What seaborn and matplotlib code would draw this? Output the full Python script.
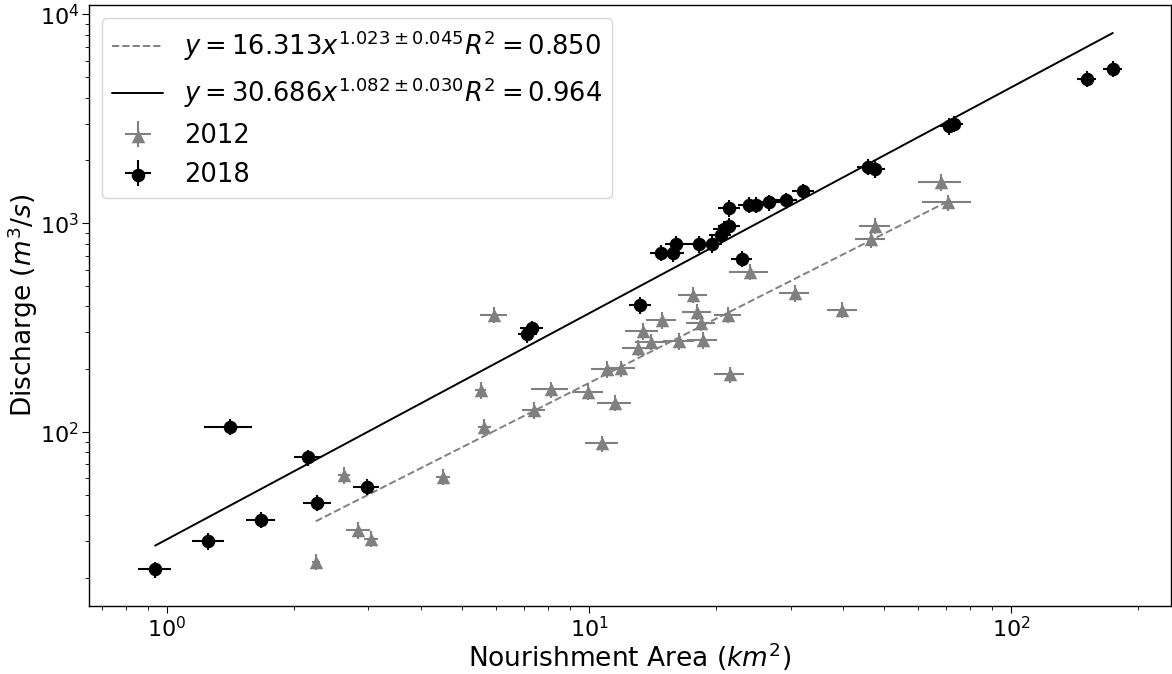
import numpy as np
import pandas as pd
import matplotlib
matplotlib.use("Agg")
import matplotlib.pyplot as plt
import seaborn as sns

# 2012 survey: nourishment area (km^2), its uncertainty, discharge (m^3/s)
area_2012 = [2.25, 2.63, 2.84, 3.04, 4.51, 5.54, 5.64, 5.96, 7.41, 8.11, 9.96,
             10.75, 11.05, 11.5, 11.89, 13.08, 13.38, 14.05, 14.87, 16.34,
             17.66, 17.99, 18.4, 18.6, 21.35, 21.55, 24.0, 30.7, 39.8, 46.5,
             47.6, 68.1, 70.9]
area_err_2012 = [0.05, 0.09, 0.185, 0.115, 0.17, 0.17, 0.2, 0.44, 0.46, 0.81,
                 0.83, 0.95, 0.94, 1.07, 0.97, 1.10, 1.21, 1.21, 1.22, 1.34,
                 1.40, 1.42, 1.47, 1.52, 1.58, 1.76, 2.54, 2.55, 3.26, 3.86,
                 3.9, 7.9, 9.3]
discharge_2012 = [23.9, 62.2, 33.9, 30.9, 61.1, 159, 106, 364, 127.5, 160, 156,
                  88.3, 200, 138, 202, 253.6, 305, 271, 344, 273, 454, 378,
                  334, 276, 364, 189, 587, 463, 385, 840, 973, 1571, 1259]

# 2018 survey
area_2018 = [0.937, 1.253, 1.408, 1.667, 2.16, 2.27, 2.97, 7.14, 7.31, 13.23,
             14.79, 15.82, 16.1, 18.2, 19.5, 20.5, 20.9, 21.5, 21.5, 23.0,
             23.9, 24.8, 26.7, 29.3, 32.1, 45.7, 47.6, 71.3, 73.3, 151, 174]
area_err_2018 = [0.083, 0.108, 0.185, 0.133, 0.166, 0.171, 0.216, 0.37, 0.45,
                 0.81, 0.89, 0.95, 0.97, 1.1, 1.17, 1.23, 1.25, 1.29, 1.29,
                 1.31, 1.43, 1.49, 1.6, 1.76, 1.93, 2.5, 2.6, 3.6, 3.7, 7.9, 8.7]
discharge_2018 = [22.0, 30.0, 106, 38.1, 75.6, 46.0, 54.7, 294, 314, 406, 724,
                  720, 795, 795, 795, 881, 937, 973, 1183, 676, 1227, 1227,
                  1259, 1286, 1421, 1862, 1820, 2913, 2999, 4920, 5495]

discharge_rel_err = 0.09

# power-law fits: coefficient, exponent, exponent error, R^2
fit_2012 = (16.313, 1.023, 0.045, 0.850)
fit_2018 = (30.686, 1.082, 0.030, 0.964)

grey = "#808080"

sns.set_style("ticks")
plt.rcParams["font.family"] = ["DejaVu Sans"]
plt.rcParams["mathtext.fontset"] = "dejavusans"
for key in ["text.color", "axes.labelcolor", "xtick.color", "ytick.color",
            "axes.edgecolor"]:
    plt.rcParams[key] = "black"

fig = plt.figure(figsize=(11.72, 6.74), dpi=100)
ax = fig.add_axes([0.0759, 0.1009, 0.9232, 0.8917])
ax.set_xscale("log")
ax.set_yscale("log")


def fit_frame(area, fit):
    a, b = fit[0], fit[1]
    xs = np.geomspace(min(area), max(area), 50)
    return pd.DataFrame({"area": xs, "discharge": a * xs ** b})


def fit_label(fit):
    return (r"$y = %.3fx^{%.3f \pm %.3f} R^2 = %.3f$" % fit)


sns.lineplot(data=fit_frame(area_2012, fit_2012), x="area", y="discharge",
             ax=ax, color=grey, linestyle="--", linewidth=1.4,
             label=fit_label(fit_2012), zorder=1)
sns.lineplot(data=fit_frame(area_2018, fit_2018), x="area", y="discharge",
             ax=ax, color="black", linestyle="-", linewidth=1.4,
             label=fit_label(fit_2018), zorder=1)
line_handles = list(ax.get_lines())

handles = []
for area, aerr, q, color, marker, year in [
        (area_2012, area_err_2012, discharge_2012, grey, "^", "2012"),
        (area_2018, area_err_2018, discharge_2018, "black", "o", "2018")]:
    df = pd.DataFrame({"area": area, "discharge": q})
    eb = ax.errorbar(df["area"], df["discharge"], xerr=aerr,
                     yerr=df["discharge"] * discharge_rel_err, fmt="none",
                     ecolor=color, elinewidth=1.5, capsize=0, zorder=2)
    sns.scatterplot(data=df, x="area", y="discharge", ax=ax, color=color,
                    marker=marker, s=95, linewidth=0, zorder=3, legend=False)
    handles.append(((eb, ax.collections[-1]), year))

if ax.get_legend() is not None:
    ax.get_legend().remove()

ax.set_xlim(0.653, 239)
ax.set_ylim(14.7, 11100)

ax.set_xlabel(r"Nourishment Area ($km^2$)", fontsize=19, labelpad=0)
ax.set_ylabel(r"Discharge ($m^3/s$)", fontsize=19, labelpad=0)
ax.tick_params(axis="both", which="major", labelsize=16, length=5, pad=2)
ax.tick_params(axis="both", which="minor", length=3)
for s in ax.spines.values():
    s.set_linewidth(1.0)

ax.legend(line_handles + [h for h, _ in handles],
          [l.get_label() for l in line_handles] + [lab for _, lab in handles],
          loc="upper left", fontsize=18.5, handlelength=2.0)

fig.savefig("out.png", dpi=100)
